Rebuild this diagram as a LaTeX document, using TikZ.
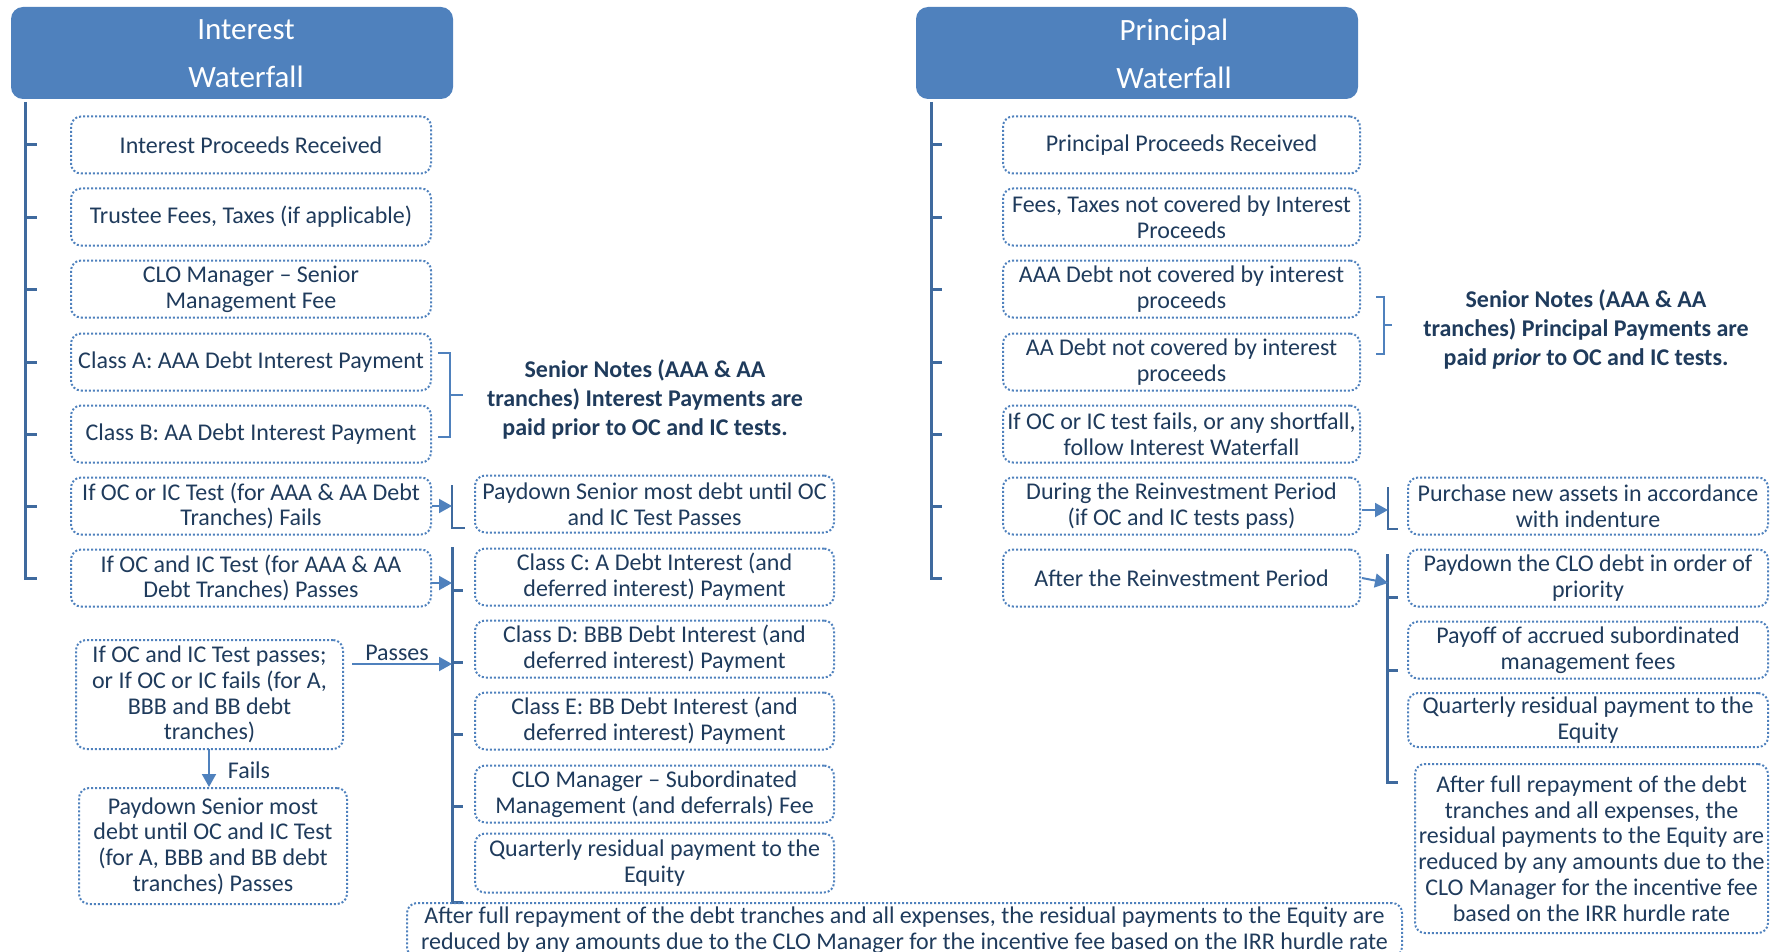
\documentclass[tikz,border=0pt]{standalone}
\usepackage{fontspec}
\setmainfont{Carlito}
\usetikzlibrary{arrows.meta,calc}
\definecolor{hdrc}{HTML}{4F81BD}
\definecolor{bdrc}{HTML}{4F81BD}
\definecolor{barc}{HTML}{3F6A9E}
\definecolor{txtc}{HTML}{1F3B5C}
\begin{document}
\begin{tikzpicture}[x=1pt,y=-1pt,
  hdrbox/.style={fill=hdrc,draw=none,rounded corners=12pt,inner sep=0pt},
  hdrtxt/.style={text=white,align=center,font=\fontsize{31}{48}\selectfont,inner sep=0pt},
  bx/.style={draw=bdrc,line width=2pt,dash pattern=on 2pt off 2pt,rounded corners=10pt,
    text=txtc,align=center,font=\fontsize{24}{25.7}\selectfont,inner sep=0pt},
  colA/.style={bx,minimum width=360pt,minimum height=57pt},
  colB/.style={bx,minimum width=359pt,minimum height=57pt},
  colC/.style={bx,minimum width=357pt,minimum height=57pt},
  colD/.style={bx,minimum width=360pt,minimum height=57pt},
  note/.style={text=txtc,align=center,font=\fontsize{24}{29}\selectfont\bfseries,inner sep=0pt},
  lbl/.style={text=txtc,font=\fontsize{24}{26}\selectfont,inner sep=0pt},
  bar/.style={draw=barc,line width=3pt},
  brk/.style={draw=barc,line width=2.4pt},
  thin/.style={draw=bdrc,line width=1.6pt},
  arr/.style={draw=bdrc,line width=2pt,-{Triangle[length=13pt,width=14pt]}}
]
\useasboundingbox (0,0) rectangle (1771,952);
\clip (0,0) rectangle (1771,952);

% ---------- headers ----------
\node[hdrbox,minimum width=442pt,minimum height=92pt] (ih) at (232,53) {};
\node[hdrtxt] (iht) at (246,54) {Interest\\Waterfall};
\node[hdrbox,minimum width=442pt,minimum height=92pt] (ph) at (1137,53) {};
\node[hdrtxt] (pht) at (1174,54) {Principal\\Waterfall};

% ---------- interest column ----------
\node[colA] (i1) at (251,145) {Interest Proceeds Received};
\node[colA] (i2) at (251,217) {Trustee Fees, Taxes (if applicable)};
\node[colA] (i3) at (251,289) {CLO Manager -- Senior\\Management Fee};
\node[colA] (i4) at (251,362) {Class A: AAA Debt Interest Payment};
\node[colA] (i5) at (251,434) {Class B: AA Debt Interest Payment};
\node[colA] (i6) at (251,506) {If OC or IC Test (for AAA \& AA Debt\\Tranches) Fails};
\node[colA] (i7) at (251,578) {If OC and IC Test (for AAA \& AA\\Debt Tranches) Passes};

\coordinate (lbar) at (25,102);
\draw[bar] (lbar) -- (lbar |- i7.west) -- ++(12,0);
\foreach \n in {i1,i2,i3,i4,i5,i6}{
  \draw[bar] (lbar |- \n.west) -- ++(12,0);
}

% senior notes note (interest)
\coordinate (ba1) at (438,353);
\coordinate (ba2) at (438,437);
\draw[thin] (ba1) -- ++(12,0) -- ($(ba2)+(12,0)$) -- (ba2);
\draw[thin] (450,395) -- (463,395);
\node[note] (in) at (645,399) {Senior Notes (AAA \& AA\\tranches) Interest Payments are\\paid prior to OC and IC tests.};

% ---------- middle interest column ----------
\node[colB] (m1) at (654.5,504) {Paydown Senior most debt until OC\\and IC Test Passes};
\node[colB] (m2) at (654.5,577) {Class C: A Debt Interest (and\\deferred interest) Payment};
\node[colB] (m3) at (654.5,649) {Class D: BBB Debt Interest (and\\deferred interest) Payment};
\node[colB] (m4) at (654.5,721) {Class E: BB Debt Interest (and\\deferred interest) Payment};
\node[colB] (m5) at (654.5,794) {CLO Manager -- Subordinated\\Management (and deferrals) Fee};
\node[colB,minimum height=59pt] (m6) at (654.5,863) {Quarterly residual payment to the\\Equity};

% bracket for paydown
\coordinate (pb1) at (452,485);
\coordinate (pb2) at (452,528);
\draw[brk] (pb1) -- (pb2) -- ++(13,0);
\draw[arr] (i6.east) -- (i6.east -| pb1);

% long bracket
\coordinate (lb1) at (452,547);
\coordinate (lb2) at (452,902);
\draw[bar] (lb1) -- (lb2) -- ++(11,0);
\foreach \y in {590,662,734,806}{
  \draw[bar] (452,\y) -- (463,\y);
}
\coordinate (i7a) at (431,583);
\draw[arr] (i7a) -- (i7a -| lb1);

% lower-left boxes
\node[bx,minimum width=267pt,minimum height=109pt] (ll1) at (209.5,694.5)
  {If OC and IC Test passes;\\or If OC or IC fails (for A,\\BBB and BB debt\\tranches)};
\node[bx,minimum width=268pt,minimum height=116pt] (ll2) at (213,846)
  {Paydown Senior most\\debt until OC and IC Test\\(for A, BBB and BB debt\\tranches) Passes};
\coordinate (pa) at (352,664);
\draw[arr] (pa) -- (pa -| lb1);
\node[lbl] (passes) at (397,653) {Passes};
\coordinate (fa) at (209,749);
\draw[arr] (fa) -- (fa |- ll2.north);
\node[lbl] (fails) at (249,770) {Fails};

% bottom wide box
\node[bx,minimum width=995pt,minimum height=54pt] (bw) at (904.5,930)
  {After full repayment of the debt tranches and all expenses, the residual payments to the Equity are\\reduced by any amounts due to the CLO Manager for the incentive fee based on the IRR hurdle rate};

% ---------- principal column ----------
\node[colC] (p1) at (1181.5,145) {Principal Proceeds Received};
\node[colC] (p2) at (1181.5,217) {Fees, Taxes not covered by Interest\\Proceeds};
\node[colC] (p3) at (1181.5,289) {AAA Debt not covered by interest\\proceeds};
\node[colC] (p4) at (1181.5,362) {AA Debt not covered by interest\\proceeds};
\node[colC] (p5) at (1181.5,434) {If OC or IC test fails, or any shortfall,\\follow Interest Waterfall};
\node[colC] (p6) at (1181.5,506) {During the Reinvestment Period\\(if OC and IC tests pass)};
\node[colC] (p7) at (1181.5,578) {After the Reinvestment Period};

\coordinate (pbar) at (931,102);
\draw[bar] (pbar) -- (pbar |- p7.west) -- ++(11,0);
\foreach \n in {p1,p2,p3,p4,p5,p6}{
  \draw[bar] (pbar |- \n.west) -- ++(11,0);
}

\coordinate (bp1) at (1376,297);
\coordinate (bp2) at (1376,354);
\draw[thin] (bp1) -- ++(8,0) -- ($(bp2)+(8,0)$) -- (bp2);
\draw[thin] (1384,325) -- (1392,325);
\node[note] (pn) at (1586,329) {Senior Notes (AAA \& AA\\tranches) Principal Payments are\\paid \textit{prior} to OC and IC tests.};

% ---------- right principal column ----------
\node[colD] (r1) at (1588,506) {Purchase new assets in accordance\\with indenture};
\node[colD] (r2) at (1588,578) {Paydown the CLO debt in order of\\priority};
\node[colD] (r3) at (1588,650) {Payoff of accrued subordinated\\management fees};
\node[colD,minimum height=54pt] (r4) at (1588,720) {Quarterly residual payment to the\\Equity};
\node[bx,minimum width=353pt,minimum height=169pt] (r5) at (1591.5,848.5)
  {After full repayment of the debt\\tranches and all expenses, the\\residual payments to the Equity are\\reduced by any amounts due to the\\CLO Manager for the incentive fee\\based on the IRR hurdle rate};

\coordinate (rb1) at (1388,487);
\coordinate (rb2) at (1388,529);
\draw[brk] (rb1) -- (rb2) -- ++(10,0);
\coordinate (p6a) at (1362,510);
\draw[arr] (p6a) -- (p6a -| rb1);

\coordinate (rc1) at (1387,554);
\coordinate (rc2) at (1387,782);
\draw[bar] (rc1) -- (rc2) -- ++(11,0);
\foreach \y in {597,670}{
  \draw[bar] (1387,\y) -- (1398,\y);
}
\coordinate (p7a) at (1362,578);
\coordinate (p7b) at (1388,583);
\draw[arr] (p7a) -- (p7b);
\end{tikzpicture}
\end{document}
